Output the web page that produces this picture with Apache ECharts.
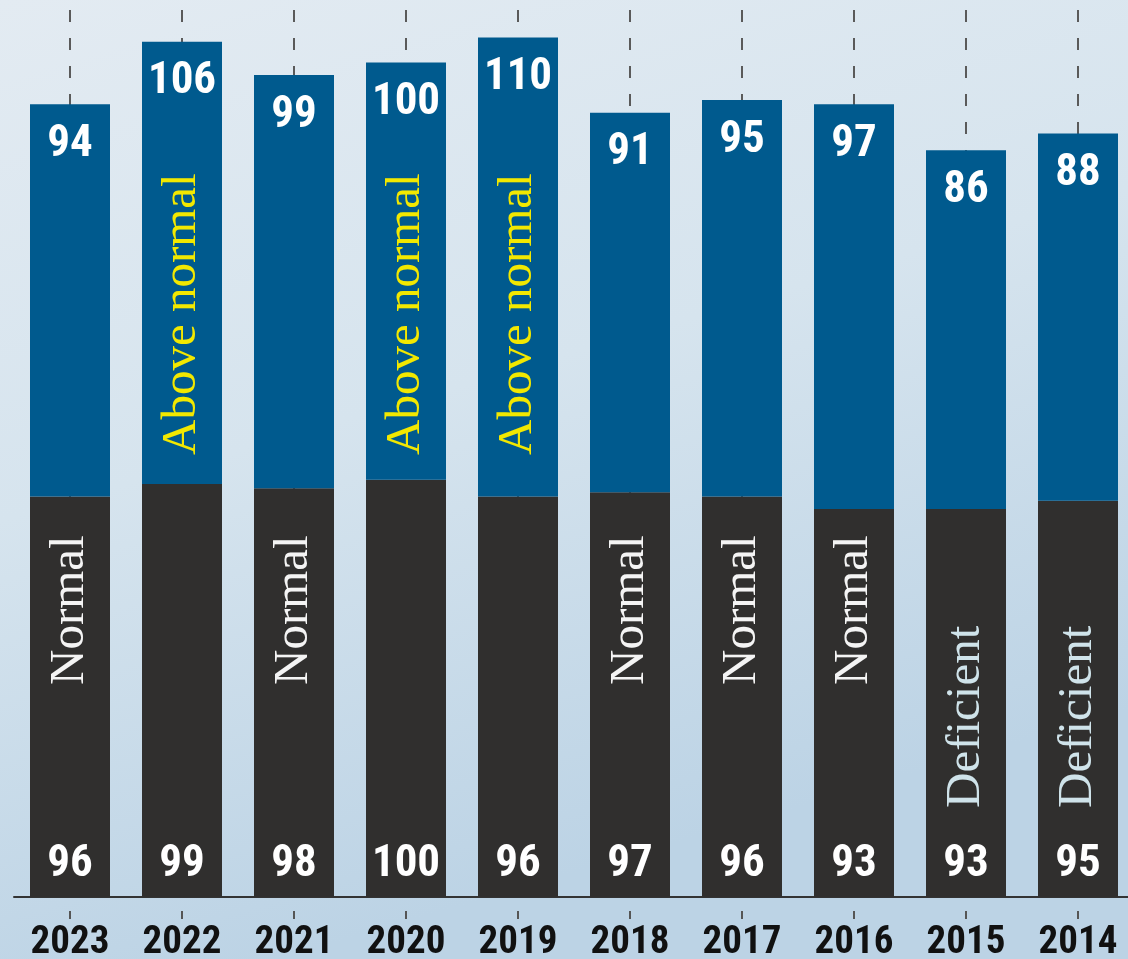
<!DOCTYPE html>
<html>
<head>
<meta charset="utf-8">
<title>Monsoon rainfall</title>
<script src="https://cdn.jsdelivr.net/npm/echarts@6/dist/echarts.min.js"></script>
<style>
    html, body { margin: 0; padding: 0; }
    #main { width: 1128px; height: 959px; }
</style>
</head>
<body>
<div id="main"></div>
<script>
// categories, left to right
const years = ['2023', '2022', '2021', '2020', '2019', '2018', '2017', '2016', '2015', '2014'];
// lower (dark) segment values
const lowerValues = [96, 99, 98, 100, 96, 97, 96, 93, 93, 95];
// upper (blue) segment values
const upperValues = [94, 106, 99, 100, 110, 91, 95, 97, 86, 88];
// vertical tag written inside each bar
const tags = ['Normal', 'Above normal', 'Normal', 'Above normal', 'Above normal', 'Normal', 'Normal', 'Normal', 'Deficient', 'Deficient'];

const numFont = '"Roboto Condensed", "DejaVu Sans Condensed", sans-serif';
const serifFont = '"Liberation Serif", "DejaVu Serif", serif';

// how each tag is drawn (distance measured up from the axis)
const tagLook = {
    'Normal': { color: '#f4f4f4', distance: 212 },
    'Deficient': { color: '#cfe3ea', distance: 89 },
    'Above normal': { color: '#f2e800', distance: 442 }
};

const totals = lowerValues.map((v, i) => v + upperValues[i]);
const tagData = totals.map((v, i) => {
    const look = tagLook[tags[i]];
    return {
        value: v,
        label: { formatter: tags[i], color: look.color, distance: look.distance }
    };
});

const chart = echarts.init(document.getElementById('main'));
const option = {
    animation: false,
    backgroundColor: {
        type: 'linear', x: 0, y: 0, x2: 0.25, y2: 1,
        colorStops: [
            { offset: 0, color: '#e3ebf2' },
            { offset: 0.5, color: '#d6e4ee' },
            { offset: 1, color: '#bcd3e5' }
        ]
    },
    grid: { left: 14, width: 1120, top: 10, bottom: 62, outerBoundsMode: 'none' },
    xAxis: {
        type: 'category',
        data: years,
        axisLine: { lineStyle: { color: '#333', width: 2 } },
        axisTick: {
            show: true,
            alignWithLabel: true,
            interval: 0,
            length: 22,
            // only a short dash shows just above the year
            lineStyle: { color: '#555', width: 2, type: [8, 100], dashOffset: 94 }
        },
        splitLine: {
            show: true,
            alignWithLabel: true,
            interval: 0,
            lineStyle: { color: '#5a5a5a', width: 2, type: [12, 16] }
        },
        axisLabel: {
            interval: 0,
            margin: 27,
            color: '#111',
            fontFamily: numFont,
            fontWeight: 'bold',
            fontSize: 39
        }
    },
    yAxis: {
        type: 'value',
        min: 0,
        max: 212.6,
        show: false,
        splitLine: { show: false }
    },
    series: [
        {
            name: 'lower',
            type: 'bar',
            stack: 'bars',
            barWidth: 80,
            barGap: '-100%',
            data: lowerValues,
            itemStyle: { color: '#302f2e' },
            label: {
                show: true,
                position: 'insideBottom',
                distance: 10,
                color: '#fff',
                fontFamily: numFont,
                fontWeight: 'bold',
                fontSize: 45
            }
        },
        {
            name: 'upper',
            type: 'bar',
            stack: 'bars',
            barWidth: 80,
            data: upperValues,
            itemStyle: { color: '#005a8e' },
            label: {
                show: true,
                position: 'insideTop',
                distance: 18,
                color: '#fff',
                fontFamily: numFont,
                fontWeight: 'bold',
                fontSize: 45
            }
        },
        {
            name: 'tag',
            type: 'bar',
            barWidth: 80,
            data: tagData,
            itemStyle: { color: 'transparent' },
            silent: true,
            label: {
                show: true,
                rotate: 90,
                position: 'insideBottom',
                align: 'left',
                verticalAlign: 'middle',
                fontFamily: serifFont,
                fontSize: 49
            }
        }
    ]
};
chart.setOption(option);
</script>
</body>
</html>
